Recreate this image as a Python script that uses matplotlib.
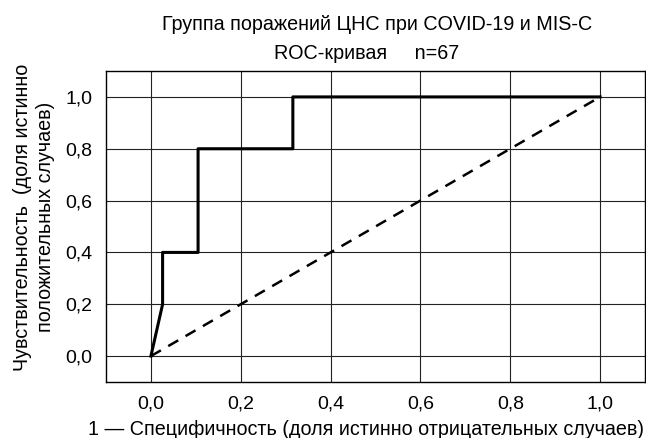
import numpy as np
import matplotlib
matplotlib.use('Agg')
import matplotlib.pyplot as plt

plt.rcParams['font.family'] = ['Liberation Sans', 'DejaVu Sans']

# ROC curve points (1 - specificity, sensitivity)
fpr = [0.0, 0.026, 0.026, 0.105, 0.105, 0.316, 0.316, 1.0]
tpr = [0.0, 0.2, 0.4, 0.4, 0.8, 0.8, 1.0, 1.0]
diag = [0.0, 1.0]
ticks = [0.0, 0.2, 0.4, 0.6, 0.8, 1.0]
tick_labels = ['0,0', '0,2', '0,4', '0,6', '0,8', '1,0']

fig = plt.figure(figsize=(6.46, 4.38), dpi=100)
ax = fig.add_axes([106/646, 1 - 382/438, (645-106)/646, (382-71)/438])

# reference line and the curve itself
ax.plot(diag, diag, color='black', lw=1.8, dashes=(4.6, 3.4))
ax.plot(fpr, tpr, color='black', lw=2.2)

ax.set_xlim(-0.1, 1.1)
ax.set_ylim(-0.1, 1.1)
ax.set_xticks(ticks)
ax.set_yticks(ticks)
ax.set_xticklabels(tick_labels)
ax.set_yticklabels(tick_labels)
ax.tick_params(length=0, labelsize=14, pad=10)
ax.grid(True, color='#222222', lw=0.8)
for s in ax.spines.values():
    s.set_linewidth(1.0)

fig.text(377/646, 1 - 30/438, 'Группа поражений ЦНС при COVID-19 и MIS-C',
         ha='center', va='baseline', fontsize=14.2)
fig.text(367/646, 1 - 59/438, 'ROC-кривая     n=67',
         ha='center', va='baseline', fontsize=14.2)

fig.text(366/646, 1 - 435/438, '1 — Специфичность (доля истинно отрицательных случаев)',
         ha='center', va='baseline', fontsize=14.2)
fig.text(34/646, 1 - 217/438, 'Чувствительность  (доля истинно\nположительных случаев)',
         ha='center', va='center', rotation=90, fontsize=14.2, linespacing=1.3)

fig.savefig('out.png', dpi=100)
